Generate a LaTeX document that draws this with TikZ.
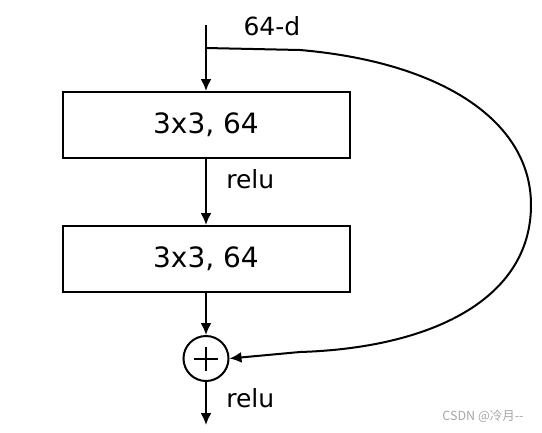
\documentclass[tikz,border=0pt]{standalone}
\usepackage{fontspec}
\setmainfont{DejaVu Sans}
\newfontfamily\cjkfont{Noto Sans CJK SC}
\usetikzlibrary{arrows.meta, positioning, calc}

\begin{document}
\begin{tikzpicture}[
    x=1pt, y=-1pt,
    node distance=66pt,
    block/.style={rectangle, draw, line width=2pt, minimum width=287pt, minimum height=66pt, inner sep=0pt, font=\fontsize{28}{30}\selectfont},
    sum/.style={circle, draw, line width=2pt, minimum size=45pt, inner sep=0pt},
    lbl/.style={font=\fontsize{25}{27}\selectfont},
    line/.style={draw, line width=2pt, -{Latex[length=12pt,width=11pt]}}
]
\useasboundingbox (0,0) rectangle (542,432);

\coordinate (in) at (206,25);
\coordinate (split) at (206,48);
\node [block] (conv1) at (206,125) {3x3, 64};
\node [block, below=of conv1] (conv2) {3x3, 64};
\node [sum, below=42pt of conv2] (add) {};
\coordinate [below=43pt of add] (out);

% plus sign
\draw [line width=2pt] ($(add)+(-12,0)$) -- ($(add)+(12,0)$);
\draw [line width=2pt] ($(add)+(0,-12)$) -- ($(add)+(0,12)$);

\node [lbl, anchor=south west] at ($(in)+(34,14)$) {64-d};
\path [line] (in) -- (conv1);
\path [line] (conv1) -- node[lbl, right=16pt, pos=0.3] {relu} (conv2);
\path [line] (conv2) -- (add);
\path [line] (add) -- node[lbl, right=16pt, pos=0.38] {relu} (out);

% shortcut
\path [line] (split) -- (300,50)
    .. controls (440,62) and (531,120) .. (531,205)
    .. controls (531,300) and (430,348) .. (300,352)
    -- (add.east);

\node [font=\cjkfont\fontsize{12.5}{14}\selectfont, text=gray!70] (mark) at (483,416) {CSDN @冷月--};
\end{tikzpicture}
\end{document}
